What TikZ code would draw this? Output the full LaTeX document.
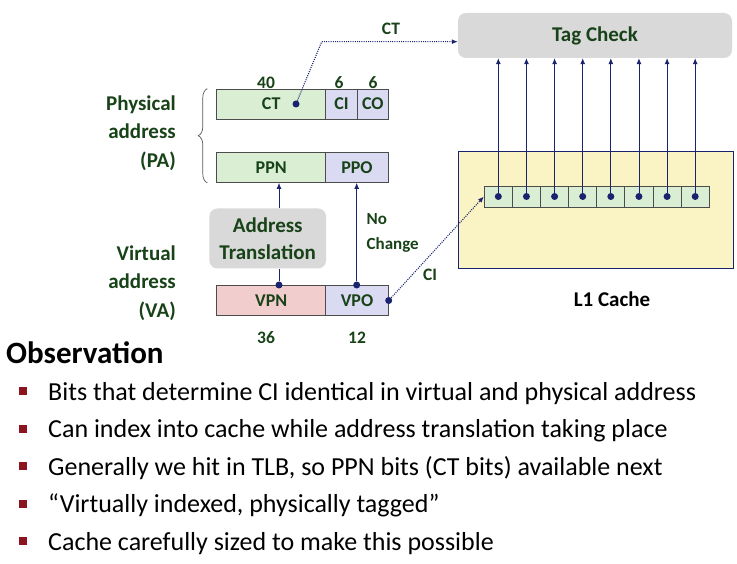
\documentclass[tikz,border=0pt]{standalone}
\usepackage{fontspec}
\setmainfont{Carlito}
\usetikzlibrary{arrows.meta,decorations.pathreplacing}

\definecolor{dkgreen}{RGB}{24,66,24}
\definecolor{arrowblue}{RGB}{26,36,110}
\definecolor{boxgreen}{RGB}{218,238,212}
\definecolor{boxblue}{RGB}{218,218,242}
\definecolor{boxpink}{RGB}{242,205,205}
\definecolor{boxgray}{RGB}{217,217,217}
\definecolor{cacheyellow}{RGB}{250,243,196}
\definecolor{bulletred}{RGB}{140,20,30}

\begin{document}
\begin{tikzpicture}[x=1pt,y=-1pt,
    field/.style={draw=black!70, line width=0.8pt, minimum height=30pt, inner sep=0pt, text=dkgreen, font=\bfseries\fontsize{18}{18}\selectfont},
    dot/.style={circle, fill=arrowblue, inner sep=0pt, minimum size=7pt},
    lbl/.style={text=dkgreen, inner sep=0pt, font=\bfseries\fontsize{17.5}{17.5}\selectfont},
    side/.style={text=dkgreen, inner sep=0pt, align=right, anchor=east, font=\bfseries\fontsize{21}{28.5}\selectfont},
    arr/.style={draw=arrowblue, line width=0.8pt, -{Latex[length=6pt,width=5pt]}},
    dots/.style={draw=arrowblue, line width=1.1pt, dash pattern=on 1pt off 1.2pt, -{Latex[length=6pt,width=5pt]}},
    item/.style={anchor=base west, inner sep=0pt, font=\fontsize{26}{26}\selectfont},
    bullet/.style={fill=bulletred, inner sep=0pt, minimum size=8pt}]

    \useasboundingbox (0,0) rectangle (737,564);

    % physical address
    \node (ct) at (271.2,104) [field, fill=boxgreen, minimum width=109pt] {CT};
    \node (ci) at (341.5,104) [field, fill=boxblue, minimum width=31.6pt] {CI};
    \node (co) at (372.8,104) [field, fill=boxblue, minimum width=31pt] {CO};
    \node (ppn) at (271.2,167.5) [field, fill=boxgreen, minimum width=109pt] {PPN};
    \node (ppo) at (357,167.5) [field, fill=boxblue, minimum width=62.6pt] {PPO};
    \node [lbl] at (266,83) {40};
    \node [lbl] at (339,83) {6};
    \node [lbl] at (373,83) {6};
    \draw [decorate, decoration={brace, amplitude=9pt}, black!65, line width=0.7pt]
        ([xshift=-9pt]ppn.south west) -- ([xshift=-9pt]ct.north west);
    \node (pa) at (176,133) [side] {Physical\\address\\(PA)};

    % virtual address
    \node (vpn) at (271.2,300.5) [field, fill=boxpink, minimum width=109pt] {VPN};
    \node (vpo) at (357,300.5) [field, fill=boxblue, minimum width=62.6pt] {VPO};
    \node [lbl] at (266,338) {36};
    \node [lbl] at (357,338) {12};
    \node (va) at (176,283) [side] {Virtual\\address\\(VA)};

    \node (at) at (267.7,238.5) [rounded corners=8pt, fill=boxgray, minimum width=116.7pt, minimum height=60pt, align=center,
        text=dkgreen, font=\bfseries\fontsize{21}{26.7}\selectfont] {Address\\Translation};
    \node (vpndot) at (279,285) [dot] {};
    \node (vpodot) at (356.7,285) [dot] {};
    \node (vporight) at (vpo.east) [dot] {};
    \node (ctdot) at (296,104) [dot] {};
    \node (nochange) at (366.5,213.5) [anchor=north west, align=left, text=dkgreen, inner sep=0pt,
        font=\bfseries\fontsize{17}{25}\selectfont] {No\\Change};

    \draw [arrowblue, line width=0.8pt] (vpndot) -- (vpndot |- at.south);
    \draw [arr] (vpndot |- at.north) -- (vpndot |- ppn.south);
    \draw [arr] (vpodot) -- (vpodot |- ppo.south);

    % tag check and cache
    \node (tag) at (595,35.5) [rounded corners=8pt, fill=boxgray, minimum width=274pt, minimum height=45pt,
        text=dkgreen, font=\bfseries\fontsize{21}{21}\selectfont] {Tag Check};
    \node (cache) at (595.5,210.5) [draw=arrowblue, line width=1pt, fill=cacheyellow, minimum width=275pt, minimum height=117pt] {};
    \node (l1) at (612,299) [inner sep=0pt, font=\bfseries\fontsize{21}{21}\selectfont] {L1 Cache};

    \foreach \i in {1,...,8} {
        \node (cell\i) at ({470.2+28.125*\i},196.5) [field, fill=boxgreen, minimum width=28.125pt, minimum height=21pt] {};
        \node (d\i) at (cell\i) [dot] {};
        \draw [arr] (d\i) -- (d\i |- tag.south);
    }

    \coordinate (ctbend) at (321.7,41.7);
    \draw [dots] (ctdot) -- (ctbend) -- (ctbend -| tag.west);
    \node [lbl] at (391,28.5) {CT};
    \draw [dots] (vporight) -- (cell1.west);
    \node [lbl] at (430,275) {CI};

    % observation text
    \node (obs) at (6,363) [anchor=base west, inner sep=0pt, font=\bfseries\fontsize{31}{31}\selectfont] {Observation};
    \node (b1) at (23,391) [bullet] {};
    \node (t1) at (48,400) [item] {Bits that determine CI identical in virtual and physical address};
    \node (b2) at (23,428.5) [bullet] {};
    \node (t2) at (48,437.5) [item] {Can index into cache while address translation taking place};
    \node (b3) at (23,466) [bullet] {};
    \node (t3) at (48,475) [item] {Generally we hit in TLB, so PPN bits (CT bits) available next};
    \node (b4) at (23,503.5) [bullet] {};
    \node (t4) at (48,512.5) [item] {“Virtually indexed, physically tagged”};
    \node (b5) at (23,541) [bullet] {};
    \node (t5) at (48,550) [item] {Cache carefully sized to make this possible};

\end{tikzpicture}
\end{document}
